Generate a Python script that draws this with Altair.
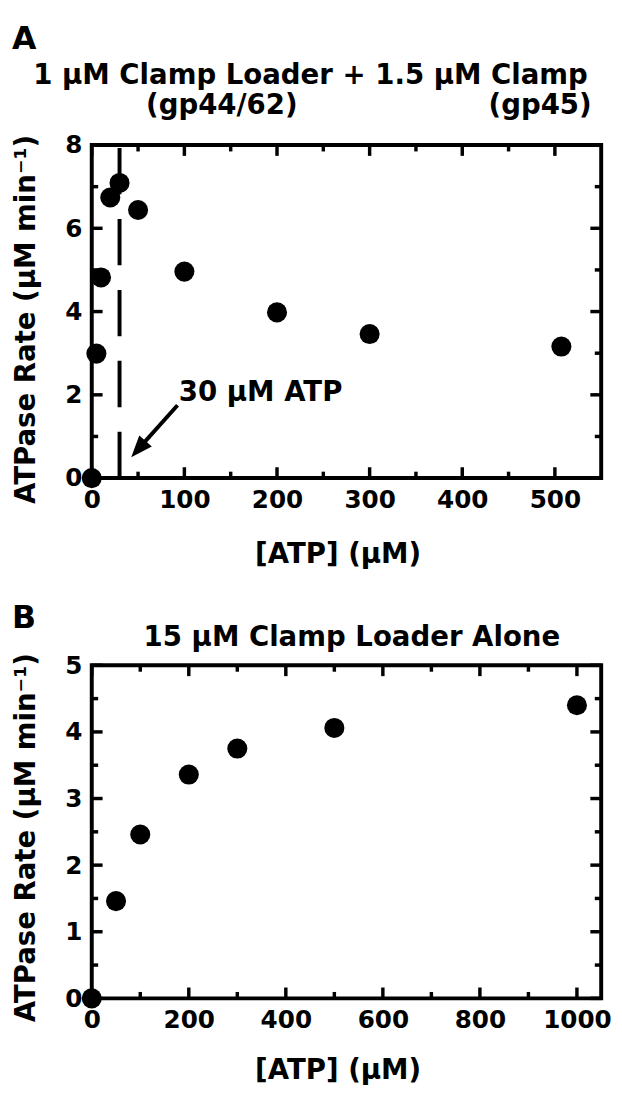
import altair as alt
import pandas as pd

# ---------------- data ----------------
# Panel A: 1 uM clamp loader + 1.5 uM clamp
atp_a = [0, 5, 10, 20, 30, 50, 100, 200, 300, 507]
rate_a = [0.0, 2.99, 4.82, 6.74, 7.09, 6.44, 4.96, 3.98, 3.46, 3.16]

# Panel B: 15 uM clamp loader alone
atp_b = [0, 50, 100, 200, 300, 500, 1000]
rate_b = [0.0, 1.46, 2.46, 3.36, 3.75, 4.06, 4.40]

# axis ticks
xa_major = [0, 100, 200, 300, 400, 500]
xa_minor = [50, 150, 250, 350, 450]
ya_major = [0, 2, 4, 6, 8]
ya_minor = [1, 3, 5, 7]
xb_major = [0, 200, 400, 600, 800, 1000]
xb_minor = [100, 300, 500, 700, 900]
yb_major = [0, 1, 2, 3, 4, 5]
yb_minor = [0.5, 1.5, 2.5, 3.5, 4.5]

# annotation (panel A): 30 uM ATP marker
marker_x = [30]
marker_y0 = [0]
marker_y1 = [8]
arrow_tail = (92.6, 1.75)
arrow_end = (56, 0.84)
arrow_tip = (42.6, 0.50)
note_pos = (94, 1.85)

W, H = 517, 338
FONT = "DejaVu Sans"
MAJ, MIN = 11, 6.5
TICKW = 3.5


def tick_layers(xs, ys, xax, yax, xmaj, xmin, ymaj, ymin):
    layers = []
    for vals, length in ((xmaj, MAJ), (xmin, MIN)):
        df = pd.DataFrame({"v": vals})
        base = alt.Chart(df).mark_rule(color="black", strokeWidth=TICKW)
        layers.append(base.encode(x=alt.X("v:Q", scale=xs, axis=xax),
                                  y=alt.value(H), y2=alt.value(H - length)))
        layers.append(base.encode(x=alt.X("v:Q", scale=xs, axis=xax),
                                  y=alt.value(0), y2=alt.value(length)))
    for vals, length in ((ymaj, MAJ), (ymin, MIN)):
        df = pd.DataFrame({"v": vals})
        base = alt.Chart(df).mark_rule(color="black", strokeWidth=TICKW)
        layers.append(base.encode(y=alt.Y("v:Q", scale=ys, axis=yax),
                                  x=alt.value(0), x2=alt.value(length)))
        layers.append(base.encode(y=alt.Y("v:Q", scale=ys, axis=yax),
                                  x=alt.value(W), x2=alt.value(W - length)))
    return layers


def label(text, x, y, size, align="center", baseline="alphabetic", angle=0):
    kw = dict(text=text, font=FONT, fontWeight="bold", fontSize=size,
              align=align, baseline=baseline, color="black")
    if angle:
        kw["angle"] = angle
    return alt.Chart(alt.Data(values=[{}])).mark_text(**kw).encode(
        x=alt.value(x), y=alt.value(y))


def points(df, xs, ys, xax, yax):
    return alt.Chart(df).mark_circle(size=415, color="black", opacity=1).encode(
        x=alt.X("atp:Q", scale=xs, axis=xax),
        y=alt.Y("rate:Q", scale=ys, axis=yax),
    )


ytitle = "ATPase Rate (µM min⁻¹)"
xtitle = "[ATP] (µM)"

# ---------------- panel A ----------------
xs_a = alt.Scale(domain=[0, 550], nice=False, zero=False)
ys_a = alt.Scale(domain=[0, 8], nice=False, zero=False)
xax_a = alt.Axis(values=xa_major, title=None, format="d")
yax_a = alt.Axis(values=ya_major, title=None, format="d")
df_a = pd.DataFrame({"atp": atp_a, "rate": rate_a})

dash = alt.Chart(pd.DataFrame({"x": marker_x, "y0": marker_y0, "y1": marker_y1})).mark_rule(
    color="black", strokeWidth=4, strokeDash=[47, 25]).encode(
    x=alt.X("x:Q", scale=xs_a, axis=xax_a),
    y=alt.Y("y0:Q", scale=ys_a, axis=yax_a),
    y2="y1:Q")

arrow_df = pd.DataFrame({"x": [arrow_tail[0]], "y": [arrow_tail[1]],
                         "x2": [arrow_end[0]], "y2": [arrow_end[1]]})
arrow_line = alt.Chart(arrow_df).mark_rule(color="black", strokeWidth=4).encode(
    x=alt.X("x:Q", scale=xs_a, axis=xax_a), y=alt.Y("y:Q", scale=ys_a, axis=yax_a),
    x2="x2:Q", y2="y2:Q")
head_df = pd.DataFrame({"x": [arrow_tip[0]], "y": [arrow_tip[1]]})
arrow_head = alt.Chart(head_df).mark_point(
    shape="M0,0 L-0.85,2.2 L0.85,2.2 Z", size=400, angle=221.5,
    filled=True, color="black", opacity=1, strokeWidth=0).encode(
    x=alt.X("x:Q", scale=xs_a, axis=xax_a), y=alt.Y("y:Q", scale=ys_a, axis=yax_a))

note_df = pd.DataFrame({"x": [note_pos[0]], "y": [note_pos[1]], "t": ["30 µM ATP"]})
note = alt.Chart(note_df).mark_text(font=FONT, fontWeight="bold", fontSize=28,
                                    align="left", baseline="alphabetic", color="black").encode(
    x=alt.X("x:Q", scale=xs_a, axis=xax_a), y=alt.Y("y:Q", scale=ys_a, axis=yax_a), text="t:N")

panel_a = alt.layer(
    points(df_a, xs_a, ys_a, xax_a, yax_a),
    *tick_layers(xs_a, ys_a, xax_a, yax_a, xa_major, xa_minor, ya_major, ya_minor),
    dash, arrow_line, arrow_head, note,
    label("A", -81, -97, 32, align="left"),
    label("1 µM Clamp Loader + 1.5 µM Clamp", 222, -62, 28),
    label("(gp44/62)", 132, -31, 28),
    label("(gp45)", 455, -31, 28),
    label(ytitle, -66, 177, 28, baseline="middle", angle=270),
    label(xtitle, 250, 416, 28, baseline="middle"),
).properties(width=W, height=H)

# ---------------- panel B ----------------
xs_b = alt.Scale(domain=[0, 1050], nice=False, zero=False)
ys_b = alt.Scale(domain=[0, 5], nice=False, zero=False)
xax_b = alt.Axis(values=xb_major, title=None, format="d")
yax_b = alt.Axis(values=yb_major, title=None, format="d")
df_b = pd.DataFrame({"atp": atp_b, "rate": rate_b})

panel_b = alt.layer(
    points(df_b, xs_b, ys_b, xax_b, yax_b),
    *tick_layers(xs_b, ys_b, xax_b, yax_b, xb_major, xb_minor, yb_major, yb_minor),
    label("B", -81, -38, 32, align="left"),
    label("15 µM Clamp Loader Alone", 264, -20, 28),
    label(ytitle, -66, 175, 28, baseline="middle", angle=270),
    label(xtitle, 250, 412, 28, baseline="middle"),
).properties(width=W, height=H)

chart = alt.vconcat(panel_a, panel_b, spacing=190, bounds="flush").properties(
    padding={"left": 2, "top": 6, "right": 0, "bottom": 0},
    background="white",
).configure_view(
    stroke="black", strokeWidth=4
).configure_axis(
    labelFont=FONT, labelFontWeight="bold", labelFontSize=25, labelColor="black",
    ticks=False, tickSize=0, domain=False, grid=False, labelPadding=10,
    labelFlush=False, labelOverlap=False, labelBound=False,
)

chart.save("out.html", embed_options={"renderer": "svg", "actions": False})
